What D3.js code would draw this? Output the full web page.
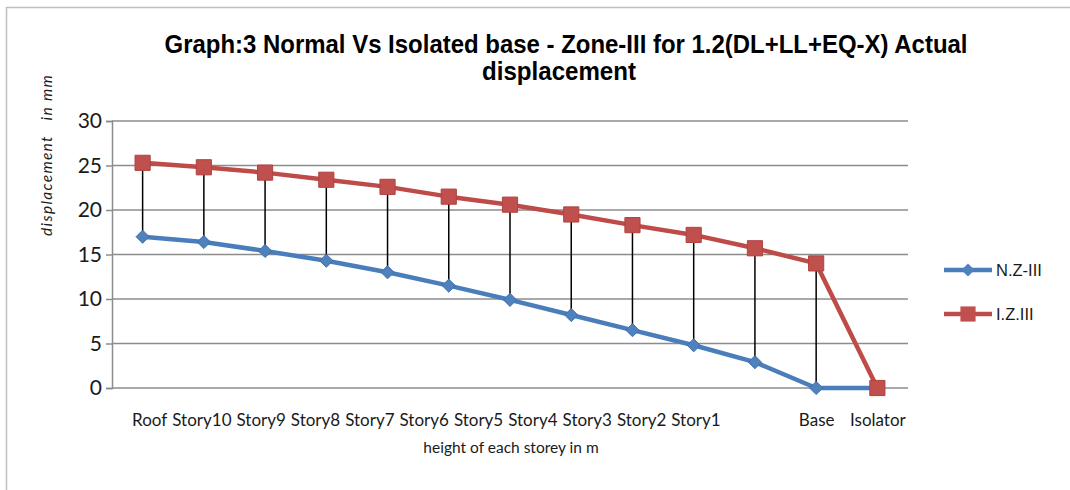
<!DOCTYPE html>
<html>
<head>
<meta charset="utf-8">
<script src="https://cdn.jsdelivr.net/npm/d3@7"></script>
<style>
  body { margin: 0; background: #fff; }
  svg { display: block; }
</style>
</head>
<body>
<script>
(function () {
    'use strict';

    // data
    var categories = ['Roof', 'Story10', 'Story9', 'Story8', 'Story7', 'Story6',
        'Story5', 'Story4', 'Story3', 'Story2', 'Story1', 'Base', 'Isolator'];
    var normalZone3 = [17, 16.4, 15.4, 14.3, 13.0, 11.5, 9.9, 8.2, 6.5, 4.8, 2.9, 0, 0];
    var isolatedZone3 = [25.3, 24.8, 24.2, 23.4, 22.6, 21.5, 20.6, 19.5, 18.3, 17.2, 15.7, 14.0, 0];
    var seriesNames = ['N.Z-III', 'I.Z.III'];
    var yTicks = [0, 5, 10, 15, 20, 25, 30];

    var width = 1070, height = 490;
    var svg = d3.select('body')
        .append('svg')
        .attr('width', width)
        .attr('height', height);

    // outer chart border
    svg.append('rect')
        .attr('x', 6.5)
        .attr('y', 7.5)
        .attr('width', width + 20)
        .attr('height', height + 20)
        .attr('fill', 'none')
        .attr('stroke', '#bfbfbf')
        .attr('stroke-width', 1.5);

    var plot = { left: 112, right: 908, top: 121, bottom: 388 };

    var x = d3.scalePoint()
        .domain(categories)
        .range([plot.left, plot.right])
        .padding(0.5);
    var y = d3.scaleLinear()
        .domain([0, 30])
        .range([plot.bottom, plot.top]);

    // title
    var title = svg.append('g')
        .attr('font-family', 'Liberation Sans, Arial, sans-serif')
        .attr('font-weight', 'bold')
        .attr('font-size', 26)
        .attr('fill', '#000')
        .attr('text-anchor', 'middle');
    title.append('text')
        .attr('x', 566).attr('y', 53)
        .attr('textLength', 803)
        .attr('lengthAdjust', 'spacingAndGlyphs')
        .text('Graph:3 Normal Vs Isolated base - Zone-III for 1.2(DL+LL+EQ-X) Actual');
    title.append('text')
        .attr('x', 559).attr('y', 80)
        .attr('textLength', 154)
        .attr('lengthAdjust', 'spacingAndGlyphs')
        .text('displacement');

    // gridlines
    svg.append('g')
        .selectAll('line')
        .data(yTicks)
        .enter()
        .append('line')
        .attr('x1', plot.left)
        .attr('x2', plot.right)
        .attr('y1', function (d) { return y(d); })
        .attr('y2', function (d) { return y(d); })
        .attr('stroke', '#8c8c8c')
        .attr('stroke-width', 1.5);

    // y axis
    var yAxis = svg.append('g')
        .attr('transform', 'translate(' + plot.left + ',0)')
        .call(d3.axisLeft(y).tickValues(yTicks).tickSize(6).tickPadding(4));
    yAxis.select('.domain').attr('stroke', '#8c8c8c').attr('stroke-width', 1.5);
    yAxis.selectAll('.tick line').attr('stroke', '#8c8c8c').attr('stroke-width', 1.5);
    yAxis.selectAll('.tick text')
        .attr('font-family', 'Lato, sans-serif')
        .attr('font-size', 21)
        .attr('fill', '#1a1a1a');

    // x axis labels
    var xAxis = svg.append('g')
        .attr('transform', 'translate(0,' + plot.bottom + ')')
        .call(d3.axisBottom(x).tickSize(0).tickPadding(26));
    xAxis.select('.domain').remove();
    var xLabels = xAxis.selectAll('.tick text')
        .attr('font-family', 'Lato, sans-serif')
        .attr('font-size', 17)
        .attr('fill', '#1a1a1a');

    // the storey labels run together as one line, as in the original sheet
    var flowX = x(categories[0]) - 11;
    xLabels.each(function (d) {
        if (d === 'Base' || d === 'Isolator') { return; }
        var w = this.getComputedTextLength();
        var tickX = x(d);
        d3.select(this)
            .attr('text-anchor', 'start')
            .attr('x', flowX - tickX);
        flowX += w + 5;
    });

    // axis titles
    svg.append('text')
        .attr('x', 511).attr('y', 453)
        .attr('text-anchor', 'middle')
        .attr('font-family', 'Lato, sans-serif')
        .attr('font-size', 15.5)
        .attr('fill', '#1a1a1a')
        .text('height of each storey in m');

    svg.append('text')
        .attr('transform', 'translate(52,155) rotate(-90)')
        .attr('text-anchor', 'middle')
        .attr('font-family', 'Lato, sans-serif')
        .attr('font-style', 'italic')
        .attr('font-size', 15.5)
        .attr('letter-spacing', 1.3)
        .attr('fill', '#1a1a1a')
        .attr('xml:space', 'preserve')
        .text('displacement   in mm');

    // high-low lines between the two series
    svg.append('g')
        .selectAll('line')
        .data(categories)
        .enter()
        .append('line')
        .attr('x1', function (d) { return x(d); })
        .attr('x2', function (d) { return x(d); })
        .attr('y1', function (d, i) { return y(isolatedZone3[i]); })
        .attr('y2', function (d, i) { return y(normalZone3[i]); })
        .attr('stroke', '#000')
        .attr('stroke-width', 1.5);

    var line = d3.line()
        .x(function (d, i) { return x(categories[i]); })
        .y(function (d) { return y(d); });

    var blue = '#4a7ebb', red = '#be4b48';

    svg.append('path')
        .datum(normalZone3)
        .attr('d', line)
        .attr('fill', 'none')
        .attr('stroke', blue)
        .attr('stroke-width', 4.5)
        .attr('stroke-linejoin', 'round');

    svg.append('path')
        .datum(isolatedZone3)
        .attr('d', line)
        .attr('fill', 'none')
        .attr('stroke', red)
        .attr('stroke-width', 4.5)
        .attr('stroke-linejoin', 'round');

    var diamond = d3.symbol().type(d3.symbolDiamond2).size(110);
    var square = d3.symbol().type(d3.symbolSquare).size(230);

    svg.append('g')
        .selectAll('path')
        .data(normalZone3)
        .enter()
        .append('path')
        .attr('d', diamond)
        .attr('transform', function (d, i) {
            return 'translate(' + x(categories[i]) + ',' + y(d) + ')';
        })
        .attr('fill', '#4f81bd')
        .attr('stroke', '#3d6fae')
        .attr('stroke-width', 1);

    svg.append('g')
        .selectAll('path')
        .data(isolatedZone3)
        .enter()
        .append('path')
        .attr('d', square)
        .attr('transform', function (d, i) {
            return 'translate(' + x(categories[i]) + ',' + y(d) + ')';
        })
        .attr('fill', '#c0504d')
        .attr('stroke', '#b0423f')
        .attr('stroke-width', 1);

    // legend
    var legend = svg.append('g');
    var legendItems = [
        { name: seriesNames[0], color: blue, marker: diamond, fill: '#4f81bd', y: 270 },
        { name: seriesNames[1], color: red, marker: square, fill: '#c0504d', y: 314 }
    ];
    legendItems.forEach(function (item) {
        legend.append('line')
            .attr('x1', 944).attr('x2', 992)
            .attr('y1', item.y).attr('y2', item.y)
            .attr('stroke', item.color)
            .attr('stroke-width', 4.5);
        legend.append('path')
            .attr('d', item.marker)
            .attr('transform', 'translate(968,' + item.y + ')')
            .attr('fill', item.fill);
        legend.append('text')
            .attr('x', 996).attr('y', item.y + 6)
            .attr('font-family', 'Liberation Sans, Arial, sans-serif')
            .attr('font-size', 16.5)
            .attr('fill', '#1a1a1a')
            .text(item.name);
    });
}());
</script>
</body>
</html>
